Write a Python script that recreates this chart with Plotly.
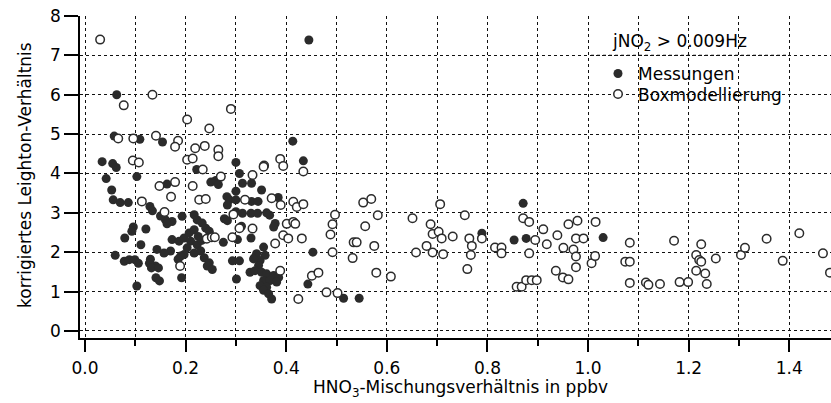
import plotly.graph_objects as go

# Messungen (measured), HNO3 in ppbv vs. corrected Leighton ratio
mess_x = [0.445, 0.063, 0.058, 0.109, 0.154, 0.413, 0.434,
          0.034, 0.055, 0.062, 0.042, 0.053, 0.103,
          0.222, 0.250, 0.260, 0.265,
          0.300, 0.307, 0.313, 0.300, 0.331, 0.351,
          0.163, 0.056, 0.070, 0.086, 0.129, 0.134,
          0.160, 0.173, 0.163, 0.150,
          0.282, 0.287, 0.300, 0.283, 0.331, 0.344,
          0.300, 0.313, 0.330, 0.343, 0.361, 0.367,
          0.193, 0.217, 0.223, 0.233, 0.240, 0.247,
          0.277, 0.283, 0.311, 0.303, 0.330,
          0.384, 0.378, 0.375,
          0.096, 0.093, 0.121, 0.079, 0.111,
          0.173, 0.187, 0.197, 0.207, 0.217, 0.210, 0.223, 0.203, 0.217, 0.230,
          0.237, 0.247, 0.197, 0.190, 0.170, 0.157, 0.143, 0.225, 0.232,
          0.275, 0.130, 0.140, 0.243, 0.253,
          0.293, 0.307, 0.301, 0.337,
          0.355, 0.341, 0.358, 0.348, 0.345, 0.335,
          0.328, 0.338, 0.351, 0.361, 0.375, 0.385, 0.355, 0.368, 0.381,
          0.348, 0.361, 0.355, 0.365, 0.371,
          0.060, 0.078, 0.088, 0.099, 0.106, 0.128, 0.132, 0.146, 0.141, 0.148,
          0.103, 0.192, 0.185,
          0.453, 0.443, 0.514, 0.545,
          0.789, 0.871, 0.853, 0.877, 1.030]
mess_y = [7.39, 6.00, 4.95, 4.87, 4.80, 4.82, 4.32,
          4.30, 4.25, 4.15, 3.87, 3.58, 3.92,
          4.10, 3.78, 3.82, 3.72,
          4.28, 4.00, 3.75, 3.55, 3.75, 3.58,
          3.73, 3.33, 3.26, 3.26, 3.16, 3.05,
          2.82, 2.78, 2.72, 2.92,
          3.41, 3.33, 3.33, 3.20, 3.29, 3.29,
          3.03, 2.99, 2.99, 2.99, 3.00, 2.94,
          2.91, 2.95, 2.82, 2.74, 2.61, 2.53,
          2.85, 2.80, 2.66, 2.32, 2.36,
          3.39, 2.73, 2.64,
          2.64, 2.53, 2.59, 2.36, 2.19,
          2.32, 2.28, 2.36, 2.49, 2.57, 2.28, 2.19, 2.11, 1.98, 2.03,
          1.86, 1.73, 1.94, 1.90, 2.03, 1.98, 2.07, 2.40, 2.30,
          2.25, 1.82, 1.65, 1.65, 1.56,
          1.78, 1.78, 1.32, 1.86,
          2.13, 1.96, 1.92, 1.79, 1.66, 1.83,
          1.49, 1.53, 1.49, 1.45, 1.41, 1.36, 1.28, 1.28, 1.24,
          1.15, 1.11, 1.03, 0.94, 0.81,
          1.92, 1.77, 1.81, 1.81, 1.72, 1.72, 1.60, 1.60, 1.35, 1.27,
          1.14, 1.35, 1.82,
          2.00, 1.19, 0.83, 0.83,
          2.48, 3.24, 2.31, 2.35, 2.37]

# Boxmodellierung (box model)
box_x = [0.030, 0.134, 0.077, 0.290, 0.203, 0.247,
         0.066, 0.096, 0.141, 0.185, 0.179, 0.219, 0.238, 0.265,
         0.095, 0.107, 0.203, 0.214, 0.356, 0.234, 0.270, 0.265, 0.333,
         0.148, 0.179, 0.171, 0.214, 0.113, 0.158, 0.227, 0.240, 0.318, 0.295,
         0.242, 0.252, 0.258, 0.293, 0.307, 0.333, 0.189,
         0.388, 0.394, 0.355, 0.434, 0.371, 0.389, 0.414, 0.421, 0.434,
         0.401, 0.414, 0.418, 0.394, 0.404, 0.431, 0.378, 0.388,
         0.451, 0.464, 0.424, 0.480, 0.502,
         0.497, 0.492, 0.488, 0.492, 0.534, 0.540, 0.532, 0.575, 0.557,
         0.553, 0.569, 0.582, 0.579, 0.608,
         0.651, 0.706, 0.687, 0.691, 0.703, 0.709, 0.731, 0.679, 0.658, 0.691, 0.712,
         0.755, 0.764, 0.769, 0.767, 0.760, 0.789, 0.815, 0.828, 0.828,
         0.871, 0.883, 0.895, 0.883, 0.911, 0.918, 0.939, 0.951, 0.961, 0.979,
         0.971, 0.976, 0.976, 0.976, 0.991, 1.007, 1.014, 1.015,
         1.083, 1.074, 1.083, 1.083, 0.936, 0.950, 0.961,
         0.858, 0.868, 0.877, 0.888, 0.898,
         1.115, 1.120, 1.143, 1.171, 1.182, 1.199, 1.215, 1.221, 1.225, 1.225,
         1.215, 1.233, 1.236, 1.254, 1.304, 1.312, 1.355, 1.387, 1.420, 1.467, 1.481]
box_y = [7.40, 6.00, 5.73, 5.64, 5.37, 5.14,
         4.89, 4.89, 4.96, 4.83, 4.68, 4.64, 4.70, 4.60,
         4.33, 4.28, 4.35, 4.38, 4.20, 4.10, 3.92, 4.44, 3.96,
         3.68, 3.78, 3.41, 3.68, 3.29, 3.02, 3.33, 3.35, 3.33, 2.96,
         2.34, 2.38, 2.38, 2.38, 2.61, 2.60, 1.65,
         4.37, 4.19, 4.17, 4.05, 3.37, 3.20, 3.28, 3.15, 3.22,
         2.72, 2.77, 2.72, 2.43, 2.35, 2.35, 2.22, 1.53,
         1.40, 1.48, 0.81, 0.98, 0.96,
         2.95, 2.71, 2.45, 2.00, 2.25, 2.25, 1.85, 2.16, 2.66,
         3.26, 3.35, 2.94, 1.48, 1.38,
         2.86, 3.22, 2.71, 2.46, 2.52, 2.35, 2.40, 2.16, 1.99, 1.99, 1.95,
         2.94, 2.35, 2.16, 1.93, 1.57, 2.35, 2.12, 2.12, 1.97,
         2.86, 2.77, 2.31, 1.97, 2.58, 2.20, 2.43, 2.11, 2.71, 2.80,
         2.07, 1.89, 1.62, 2.35, 2.35, 1.72, 1.90, 2.77,
         2.24, 1.76, 1.76, 1.22, 1.53, 1.36, 1.31,
         1.12, 1.12, 1.29, 1.29, 1.29,
         1.23, 1.17, 1.19, 2.29, 1.24, 1.24, 1.93, 1.80, 1.76, 2.20,
         1.53, 1.46, 1.19, 1.84, 1.93, 2.11, 2.34, 1.78, 2.48, 1.97, 1.48]

x_ticks = [0.0, 0.2, 0.4, 0.6, 0.8, 1.0, 1.2, 1.4]
x_tick_text = ["0.0", "0.2", "0.4", "0.6", "0.8", "1.0", "1.2", "1.4"]
y_ticks = [0, 1, 2, 3, 4, 5, 6, 7, 8]

FONT = "DejaVu Sans"
INK = "#2b2b2b"
GRID = dict(showgrid=True, gridcolor="#111", gridwidth=1.2, griddash="dot")

# plot area in pixels: x 80..831, y 16..338
def py(pixel_y):
    return (338 - pixel_y) / 322

def px(pixel_x):
    return (pixel_x - 80) / 751

fig = go.Figure()
fig.add_trace(go.Scatter(
    x=mess_x, y=mess_y, mode="markers", name="Messungen", legend="legend",
    marker=dict(symbol="circle", size=9, color=INK, line=dict(width=0)),
))
fig.add_trace(go.Scatter(
    x=box_x, y=box_y, mode="markers", name="Boxmodellierung", legend="legend2",
    marker=dict(symbol="circle", size=8.5, color="white",
                line=dict(width=1.5, color=INK)),
))

fig.update_xaxes(
    range=[-0.01, 1.483], tickmode="array", tickvals=x_ticks, ticktext=x_tick_text,
    ticks="outside", ticklen=12, tickwidth=1.5, tickcolor="black",
    ticklabelstandoff=2,
    showline=True, linecolor="black", linewidth=1.5, zeroline=False,
    minor=dict(tickmode="linear", tick0=0, dtick=0.1, ticks="outside", ticklen=6,
               tickwidth=1.5, tickcolor="black",
               showgrid=True, gridcolor="#111", gridwidth=1.2, griddash="dot"),
    tickfont=dict(family=FONT, size=17, color="black"),
    **GRID,
)
fig.update_yaxes(
    range=[-0.18, 8.0], tickmode="array", tickvals=y_ticks,
    ticks="outside", ticklen=14, tickwidth=1.5, tickcolor="black",
    showline=True, linecolor="black", linewidth=1.5, zeroline=False,
    tickfont=dict(family=FONT, size=17, color="black"),
    **GRID,
)

# axis titles
fig.add_annotation(
    x=px(460), y=py(389), xref="paper", yref="paper", yanchor="middle", xanchor="center",
    text="HNO<sub>3</sub>-Mischungsverhältnis in ppbv", showarrow=False,
    font=dict(family=FONT, size=17, color="black"),
)
fig.add_annotation(
    x=px(25), y=py(175), xref="paper", yref="paper", xanchor="center", yanchor="middle",
    text="korrigiertes Leighton-Verhältnis", textangle=-90, showarrow=False,
    font=dict(family=FONT, size=17, color="black"),
)

# white panel behind the legend block; the y=7 grid line runs across it
fig.add_shape(type="rect", xref="paper", yref="paper", layer="between",
              x0=px(591), x1=px(789), y0=py(101), y1=py(28),
              fillcolor="white", line=dict(width=0))
fig.add_shape(type="line", xref="paper", yref="y", layer="between",
              x0=px(591), x1=px(789), y0=7, y1=7,
              line=dict(color="#111", width=1.2, dash="dot"))

fig.add_annotation(
    x=px(610), y=py(42), xref="paper", yref="paper",
    xanchor="left", yanchor="middle",
    text="jNO<sub>2</sub> > 0.009Hz", showarrow=False,
    font=dict(family=FONT, size=17, color="black"),
)

legend_style = dict(xanchor="left", yanchor="top", bgcolor="rgba(0,0,0,0)",
                    borderwidth=0, font=dict(family=FONT, size=17, color="black"))

fig.update_layout(
    width=831, height=403,
    margin=dict(l=80, r=0, t=16, b=65),
    paper_bgcolor="white", plot_bgcolor="white",
    showlegend=True,
    legend=dict(x=px(598), y=py(56), **legend_style),
    legend2=dict(x=px(598), y=py(76.5), **legend_style),
)

fig.write_html("out.html")
